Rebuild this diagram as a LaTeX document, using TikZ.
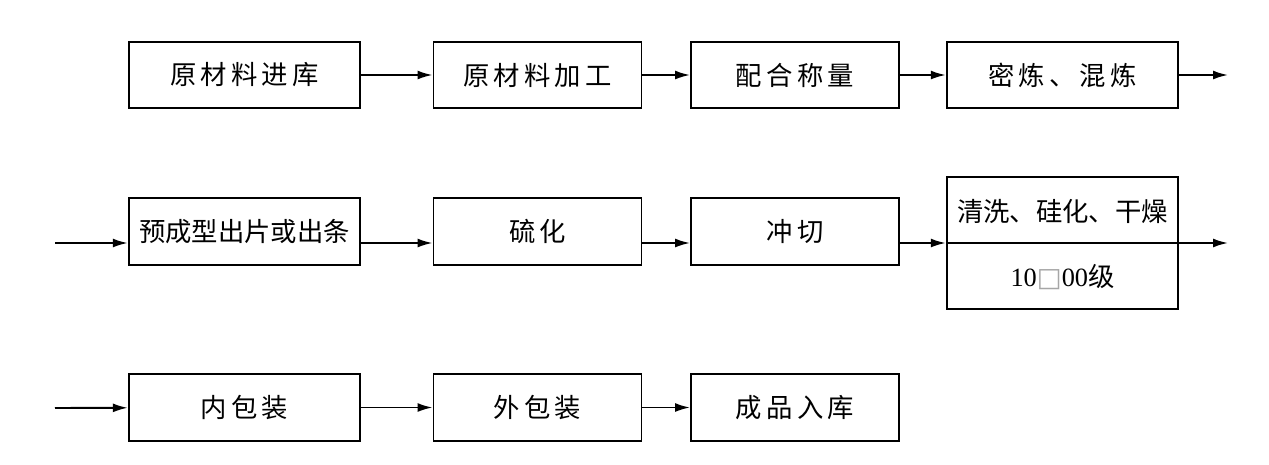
\documentclass[tikz,border=0pt]{standalone}
\usepackage{fontspec}
\newfontfamily\cjk{Noto Sans CJK SC}
\newfontfamily\cjksp[LetterSpace=16]{Noto Sans CJK SC}
\newfontfamily\shuzi{Liberation Serif}
\newfontfamily\fuhao{DejaVu Sans}
\usetikzlibrary{arrows.meta}

\begin{document}
\begin{tikzpicture}[x=0.02cm, y=-0.02cm]
\tikzset{gongxu/.style={draw, line width=1.1pt, inner sep=0pt, minimum height=1.33cm, font=\fontsize{15}{18}\selectfont\cjksp},
  kuan/.style={minimum width=4.63cm}, zhai/.style={minimum width=4.16cm},
  jiantou/.style={line width=1.1pt, -{Latex[length=3mm, width=1.8mm]}}}
\useasboundingbox (0, 0) rectangle (1269, 464);
% first row
\node[gongxu, kuan] (A1) at (244.5, 75) {原材料进库};
\node[gongxu, zhai] (A2) at (537.5, 75) {原材料加工};
\node[gongxu, zhai] (A3) at (795, 75) {配合称量};
\node[gongxu, kuan] (A4) at (1062.5, 75) {密炼、混炼};
\coordinate (Aout) at (1228, 75);
% second row
\coordinate (Bin) at (55, 243);
\node[gongxu, kuan, font=\fontsize{15}{18}\selectfont\cjk] (B1) at (244.5, 231.5) {预成型出片或出条};
\node[gongxu, zhai] (B2) at (537.5, 231.5) {硫化};
\node[gongxu, zhai] (B3) at (795, 231.5) {冲切};
\node[gongxu, kuan, minimum height=2.64cm] (B4) at (1062.5, 243) {};
\node[font=\fontsize{15}{18}\selectfont\cjk] (B4a) at (1062.5, 211) {清洗、硅化、干燥};
\node[font=\fontsize{15}{18}\selectfont] (B4b) at (1062.5, 277) {\shuzi 10{\fuhao\color{black!35}□}00\cjk 级};
\coordinate (Bout) at (1228, 243);
% third row
\coordinate (Cin) at (55, 408);
\node[gongxu, kuan] (C1) at (244.5, 407.5) {内包装};
\node[gongxu, zhai] (C2) at (537.5, 407.5) {外包装};
\node[gongxu, zhai] (C3) at (795, 407.5) {成品入库};
\draw[line width=1.1pt] (B4.west) -- (B4.east);
\draw[jiantou] (A1) -- (A2);
\draw[jiantou] (A2) -- (A3);
\draw[jiantou] (A3) -- (A4);
\draw[jiantou] (A4) -- (Aout);
\draw[jiantou] (Bin) -- (B1.west |- Bin);
\draw[jiantou] (B1.east |- Bin) -- (B2.west |- Bin);
\draw[jiantou] (B2.east |- Bin) -- (B3.west |- Bin);
\draw[jiantou] (B3.east |- Bin) -- (B4.west);
\draw[jiantou] (B4.east) -- (Bout);
\draw[jiantou] (Cin) -- (C1);
\draw[jiantou] (C1) -- (C2);
\draw[jiantou] (C2) -- (C3);
\end{tikzpicture}
\end{document}
